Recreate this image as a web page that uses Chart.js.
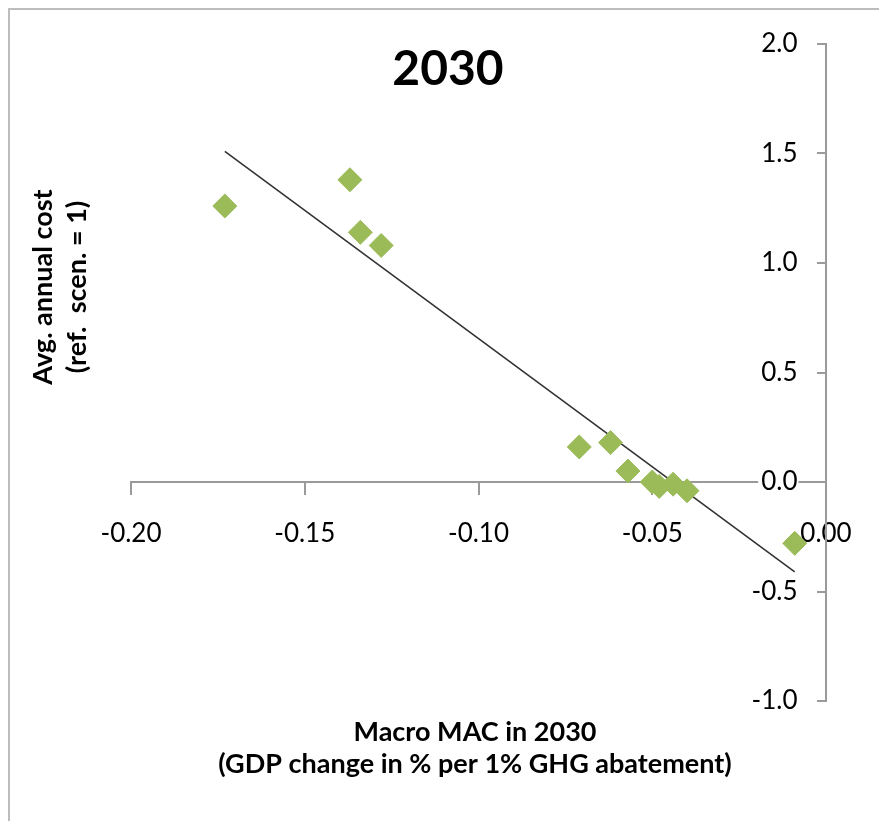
<!DOCTYPE html>
<html lang="en">

<head>
    <meta charset="UTF-8">
    <title>2030 Macro MAC vs annual cost</title>
    <script src="https://cdn.jsdelivr.net/npm/chart.js"></script>
    <style>
        body { margin: 0; background: #fff; overflow: hidden; }
        #frame { position: absolute; left: 8px; top: 8px; width: 1000px; height: 1000px; border: 2px solid #bdbdbd; }
        #wrap { position: absolute; left: 0; top: 0; width: 879px; height: 821px; }
    </style>
</head>

<body>
    <div id="frame"></div>
    <div id="wrap"><canvas id="macChart" width="879" height="821"></canvas></div>

    <script>
        // values
        var macX = [-0.173, -0.137, -0.134, -0.128, -0.071, -0.062, -0.057, -0.050, -0.048, -0.044, -0.040, -0.009];
        var avgCost = [1.26, 1.38, 1.14, 1.08, 0.16, 0.18, 0.05, 0.00, -0.02, -0.01, -0.04, -0.28];
        // linear trend line, ends as drawn
        var trendX = [-0.173, -0.009];
        var trendY = [1.51, -0.41];
        // axis ticks
        var xTicks = [-0.20, -0.15, -0.10, -0.05, 0.00];
        var yTicks = [-1.0, -0.5, 0.0, 0.5, 1.0, 1.5, 2.0];

        var chartTitle = '2030';
        var xTitle = ['Macro MAC in 2030', '(GDP change in % per 1% GHG abatement)'];
        var yTitle = ['Avg. annual cost', '(ref.  scen. = 1)'];

        var FONT = 'Lato, "Open Sans", sans-serif';
        var AXIS_GRAY = '#9a9a9a';

        // draws the chart title and the axis titles where Excel put them
        var textPlugin = {
            id: 'excelTexts',
            afterDraw: function (chart) {
                var ctx = chart.ctx;
                ctx.save();
                ctx.fillStyle = '#000';
                ctx.textAlign = 'center';
                ctx.textBaseline = 'middle';

                ctx.font = 'bold 48px ' + FONT;
                ctx.fillText(chartTitle, 448, 70);

                ctx.font = 'bold 27px ' + FONT;
                ctx.fillText(xTitle[0], 475, 732);
                ctx.fillText(xTitle[1], 475, 764);

                ctx.translate(0, 287);
                ctx.rotate(-Math.PI / 2);
                ctx.fillText(yTitle[0], 0, 43);
                ctx.fillText(yTitle[1], 0, 77);
                ctx.restore();
            }
        };

        var points = macX.map(function (x, i) { return { x: x, y: avgCost[i] }; });
        var trend = trendX.map(function (x, i) { return { x: x, y: trendY[i] }; });

        function setTicks(list) {
            return function (axis) {
                axis.ticks = list.map(function (v) { return { value: v }; });
            };
        }

        var ctx = document.getElementById('macChart').getContext('2d');
        var macChart = new Chart(ctx, {
            type: 'scatter',
            data: {
                datasets: [{
                    label: 'Countries',
                    data: points,
                    pointStyle: 'rectRot',
                    pointRadius: 12,
                    pointHoverRadius: 12,
                    backgroundColor: '#9bbb59',
                    borderColor: '#9bbb59',
                    borderWidth: 1
                }, {
                    label: 'Trend',
                    type: 'line',
                    data: trend,
                    borderColor: '#333',
                    borderWidth: 1.6,
                    pointRadius: 0,
                    fill: false
                }]
            },
            options: {
                responsive: false,
                animation: false,
                layout: { padding: { left: 131, right: 53, top: 44, bottom: 120 } },
                plugins: {
                    legend: { display: false },
                    title: { display: false },
                    tooltip: { enabled: false }
                },
                scales: {
                    x: {
                        type: 'linear',
                        min: -0.2,
                        max: 0,
                        position: { y: 0 },
                        afterBuildTicks: setTicks(xTicks),
                        ticks: {
                            color: '#000',
                            font: { family: FONT, size: 26 },
                            padding: 24,
                            maxRotation: 0,
                            callback: function (v) { return v.toFixed(2); }
                        },
                        grid: { drawOnChartArea: false, tickLength: 12, color: AXIS_GRAY, lineWidth: 2 },
                        border: { color: AXIS_GRAY, width: 2 }
                    },
                    // the value axis itself: line and tick marks at x = 0
                    y: {
                        type: 'linear',
                        min: -1,
                        max: 2,
                        position: { x: 0 },
                        afterBuildTicks: setTicks(yTicks),
                        ticks: { display: false },
                        grid: { drawOnChartArea: false, tickLength: 8, color: AXIS_GRAY, lineWidth: 2 },
                        border: { color: AXIS_GRAY, width: 2 }
                    },
                    // its labels, set a little to the left of the axis line
                    yLabels: {
                        type: 'linear',
                        min: -1,
                        max: 2,
                        position: { x: -0.0082 },
                        afterBuildTicks: setTicks(yTicks),
                        ticks: {
                            color: '#000',
                            font: { family: FONT, size: 26 },
                            showLabelBackdrop: true,
                            backdropColor: '#fff',
                            backdropPadding: { top: 0, bottom: 0, left: 3, right: 1 },
                            callback: function (v) { return v.toFixed(1); }
                        },
                        grid: { display: false },
                        border: { display: false }
                    }
                }
            },
            plugins: [textPlugin]
        });
    </script>
</body>

</html>
